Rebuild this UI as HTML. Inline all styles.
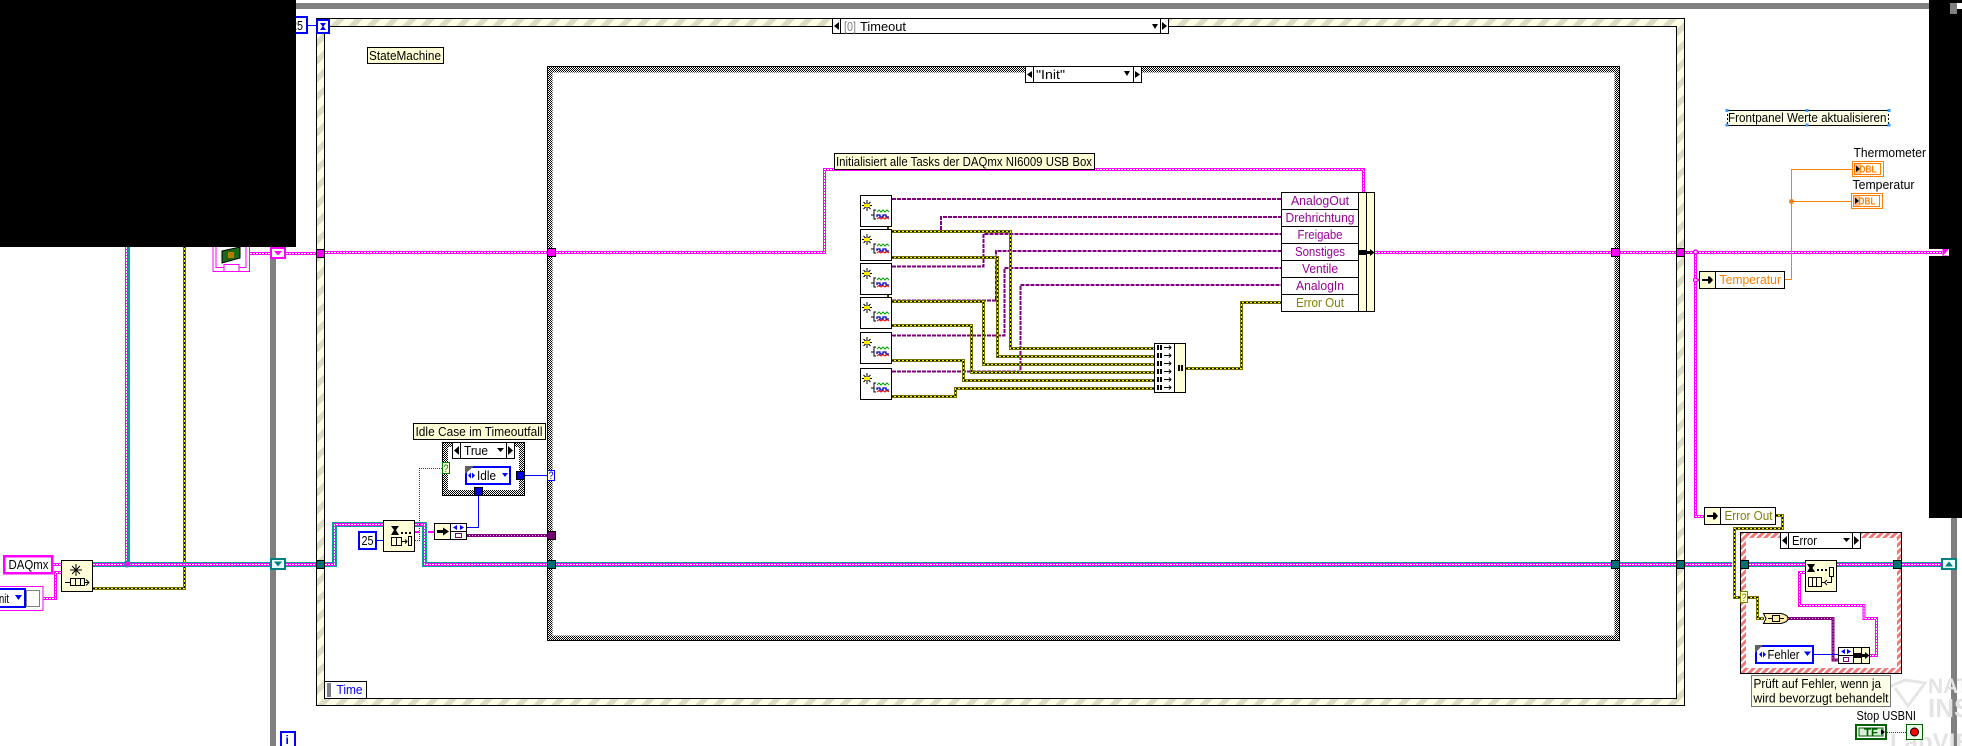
<!DOCTYPE html>
<html>
<head>
<meta charset="utf-8">
<style>
html,body{margin:0;padding:0;background:#fff;width:1962px;height:746px;overflow:hidden}
svg{display:block}
text{font-family:"Liberation Sans",sans-serif;font-size:13px;fill:#000}
.c{shape-rendering:crispEdges}
.c path,.c rect,.c line{shape-rendering:crispEdges}
.n{fill:none}
.t5{stroke:#00a0a0;stroke-width:5;fill:none}
.m3{stroke:#ff00ff;stroke-width:3;fill:none}
.wd{stroke:#fff;stroke-width:1;stroke-dasharray:2 1;fill:none}
.o3{stroke:#707000;stroke-width:3;fill:none}
.y1{stroke:#ffff00;stroke-width:1;fill:none}
.k1{stroke:#000;stroke-width:1;stroke-dasharray:2 2;fill:none}
.p2{stroke:#800080;stroke-width:2;stroke-dasharray:4 1;fill:none}
.p3{stroke:#800080;stroke-width:3;fill:none}
.pd{stroke:#e8b0e8;stroke-width:1;stroke-dasharray:1 2;fill:none}
.b1{stroke:#0000ff;stroke-width:1;fill:none}
.or{stroke:#ff8000;stroke-width:1;fill:none}
.g1{stroke:#006000;stroke-width:1;stroke-dasharray:1 1;fill:none}
.cr{fill:#ffffd8;stroke:#000;stroke-width:1}
.w{fill:#fff;stroke:#000;stroke-width:1}
.k{fill:#000}
.bl{fill:#0000ff}
.vt{fill:#990099}
.ol{fill:#808000}
</style>
</head>
<body>
<svg xmlns="http://www.w3.org/2000/svg" width="1962" height="746" viewBox="0 0 1962 746">
<defs>
<pattern id="ev" patternUnits="userSpaceOnUse" width="18" height="18">
<rect width="18" height="18" fill="#ffffe5"/>
<path d="M-4.5 4.5L4.5 -4.5M0 18L18 0M13.500 22.500L22.500 13.500" stroke="#dcdcc4" stroke-width="5.600"/>
</pattern>
<pattern id="ck" patternUnits="userSpaceOnUse" width="2" height="2">
<rect width="2" height="2" fill="#fff"/>
<rect width="1" height="1" fill="#000"/><rect x="1" y="1" width="1" height="1" fill="#000"/>
</pattern>
<pattern id="rd" patternUnits="userSpaceOnUse" width="7" height="7">
<rect width="7" height="7" fill="#fff"/>
<path d="M-1.750 1.750L1.750 -1.750M0 7L7 0M5.250 8.750L8.750 5.250" stroke="#f07878" stroke-width="3"/>
</pattern>
<g id="vi">
<rect class="w c" x="0.500" y="0.500" width="31" height="31"/>
<path d="M7 5V16M2 10.500H12M3.500 7L10.500 14M10.500 7L3.500 14" stroke="#000" stroke-width="1" fill="none"/>
<path d="M4 9H10V12H4z" fill="#ffee00"/>
<path d="M16 15H14V24H16M14 20H11" stroke="#000" stroke-width="1" fill="none"/>
<path d="M17 17L19 15L21 17L23 15L25 17L27 15L29 17" stroke="#00a000" fill="none"/>
<path d="M17 22V20H20V22H23V20H26V22H29" stroke="#0000c0" stroke-width="1.300" fill="none"/>
<path d="M17 24L19 22.500L21 24L23 22.500L25 24L27 22.500L29 24" stroke="#e00000" fill="none"/>
</g>
</defs>

<!-- gray loop -->
<rect x="296" y="3" width="1633" height="6" fill="#808080"/>
<rect x="270" y="247" width="6" height="499" fill="#808080"/>
<rect x="1951" y="518" width="6" height="228" fill="#808080"/>

<!-- event structure -->
<g class="c">
<rect x="316.500" y="18.500" width="1368" height="687" fill="url(#ev)" stroke="#000"/>
<rect x="324.500" y="26.500" width="1352" height="672" fill="#fff" stroke="#000"/>
<rect x="832.500" y="18.500" width="336" height="15" fill="#fff" stroke="#000"/>
<path d="M840.500 19V33M1160.500 19V33" stroke="#000"/>
</g>
<polygon class="k" points="839,22 839,30 834,26"/>
<polygon class="k" points="1162,22 1162,30 1167,26"/>
<polygon class="k" points="1152,24 1158,24 1155,29"/>
<text x="844" y="31" fill="#808080" textLength="12" lengthAdjust="spacingAndGlyphs" style="fill:#808080">[0]</text>
<text x="860" y="31" textLength="46" lengthAdjust="spacingAndGlyphs">Timeout</text>

<!-- hourglass -->
<g class="c">
<rect x="317" y="20" width="12" height="13" fill="#fff" stroke="#0000ff" stroke-width="2"/>
</g>
<polygon class="bl" points="320,23 326,23 323.500,26.500 326,30 320,30 322.500,26.500"/>
<g class="c">
<rect x="290" y="17" width="17" height="16" fill="#fff" stroke="#0000ff" stroke-width="2"/>
<path d="M308 25.500H317" stroke="#0000ff"/>
</g>
<text x="291" y="30" textLength="12" lengthAdjust="spacingAndGlyphs">25</text>

<!-- StateMachine -->
<rect class="cr c" x="367.500" y="47.500" width="76" height="16"/>
<text x="369" y="60" textLength="72" lengthAdjust="spacingAndGlyphs">StateMachine</text>

<!-- inner case -->
<g class="c">
<rect x="547.500" y="66.500" width="1072" height="574" fill="url(#ck)" stroke="#000"/>
<rect x="552.500" y="72.500" width="1062" height="563" fill="#fff"/>
<rect x="1025.500" y="66.500" width="116" height="16" fill="#fff" stroke="#000"/>
<path d="M1033.500 67V82M1133.500 67V82" stroke="#000"/>
</g>
<polygon class="k" points="1032,71 1032,78 1027,74.500"/>
<polygon class="k" points="1135,71 1135,78 1140,74.500"/>
<polygon class="k" points="1124,71 1130,71 1127,76"/>
<text x="1036" y="79" textLength="29" lengthAdjust="spacingAndGlyphs">"Init"</text>

<!-- Time -->
<g class="c">
<rect x="324.500" y="681.500" width="42" height="17" fill="#fff" stroke="#000"/>
<rect x="327" y="683" width="4" height="14" fill="#808080"/>
</g>
<text x="336.500" y="694" textLength="26" lengthAdjust="spacingAndGlyphs" style="fill:#0000ff">Time</text>

<!-- "i" -->
<g class="c"><rect x="281" y="732" width="14" height="15" fill="#fff" stroke="#0000ff" stroke-width="2"/></g>
<text x="285.500" y="744" style="fill:#0000ff;font-weight:bold;font-size:12px">i</text>

<!-- thin purple wires -->
<g class="c">
<path class="p2" d="M892 199H1282"/>
<path class="p2" d="M941 230V217H1282"/>
<path class="p2" d="M892 266.500H983.500V234H1282"/>
<path class="p2" d="M892 300.500H996V251H1282"/>
<path class="p2" d="M892 335.500H1004.500V268H1282"/>
<path class="p2" d="M892 371.500H1020.500V285H1282"/>
<path d="M888 226V230M888 294V298" stroke="#404000" stroke-width="2"/>
</g>

<!-- error wires -->
<g class="c">
<path class="o3" d="M93 588.500H184.500V247"/>
<path class="o3" d="M892 231.500H1010.500V348.500H1155"/>
<path class="o3" d="M892 257.500H997.500V356.500H1155"/>
<path class="o3" d="M892 301.500H983.500V364.500H1155"/>
<path class="o3" d="M892 325.500H971.500V372.500H1155"/>
<path class="o3" d="M892 360.500H963.500V380.500H1155"/>
<path class="o3" d="M892 396.500H955.500V388.500H1155"/>
<path class="o3" d="M1186 368.500H1241.500V302.500H1282"/>
<path class="o3" d="M1776 515.500H1782.500V528.500H1734.500V597.500H1741"/>
<path class="o3" d="M1748 597.500H1757.500V618.500H1764"/>
<path class="y1" d="M93 588.500H184.500V247"/>
<path class="y1" d="M892 231.500H1010.500V348.500H1155"/>
<path class="y1" d="M892 257.500H997.500V356.500H1155"/>
<path class="y1" d="M892 301.500H983.500V364.500H1155"/>
<path class="y1" d="M892 325.500H971.500V372.500H1155"/>
<path class="y1" d="M892 360.500H963.500V380.500H1155"/>
<path class="y1" d="M892 396.500H955.500V388.500H1155"/>
<path class="y1" d="M1186 368.500H1241.500V302.500H1282"/>
<path class="y1" d="M1776 515.500H1782.500V528.500H1734.500V597.500H1741"/>
<path class="y1" d="M1748 597.500H1757.500V618.500H1764"/>
<path class="k1" d="M93 588.500H184.500V247"/>
<path class="k1" d="M892 231.500H1010.500V348.500H1155"/>
<path class="k1" d="M892 257.500H997.500V356.500H1155"/>
<path class="k1" d="M892 301.500H983.500V364.500H1155"/>
<path class="k1" d="M892 325.500H971.500V372.500H1155"/>
<path class="k1" d="M892 360.500H963.500V380.500H1155"/>
<path class="k1" d="M892 396.500H955.500V388.500H1155"/>
<path class="k1" d="M1186 368.500H1241.500V302.500H1282"/>
<path class="k1" d="M1776 515.500H1782.500V528.500H1734.500V597.500H1741"/>
<path class="k1" d="M1748 597.500H1757.500V618.500H1764"/>
</g>

<!-- red case -->
<g class="c">
<rect x="1740.500" y="532.500" width="161" height="141" fill="url(#rd)" stroke="#000"/>
<rect x="1746" y="538" width="151" height="130" fill="#fff"/>
<rect x="1780.500" y="532.500" width="80" height="16" fill="#fff" stroke="#000"/>
<path d="M1788.500 533V548M1852.500 533V548" stroke="#000"/>
<!-- redraw wire inside case -->
<path class="o3" d="M1748 597.500H1757.500V618.500H1764"/>
<path class="y1" d="M1748 597.500H1757.500V618.500H1764"/>
<path class="k1" d="M1748 597.500H1757.500V618.500H1764"/>
</g>
<polygon class="k" points="1787,536 1787,545 1782,540.500"/>
<polygon class="k" points="1854,536 1854,545 1859,540.500"/>
<polygon class="k" points="1843,538 1850,538 1846.500,542"/>
<text x="1792" y="545" textLength="25" lengthAdjust="spacingAndGlyphs">Error</text>

<!-- teal + pink main wires -->
<g class="c">
<path class="t5" d="M127.500 247V564"/>
<path class="t5" d="M93 564.500H270M286 564.500H316M325 564.500H334.500V524.500H384M415 524.500H424.500V564.500H1732M1749 564.500H1806M1837 564.500H1894M1902 564.500H1941"/>
<path class="m3" d="M126.500 247V564"/>
<path class="m3" d="M93 564.500H270M286 564.500H316M325 564.500H334.500V524.500H384M415 524.500H424.500V564.500H1732M1749 564.500H1806M1837 564.500H1894M1902 564.500H1941"/>
<path class="wd" d="M126.500 247V564"/>
<path class="wd" d="M93 564.500H270M286 564.500H316M325 564.500H334.500V524.500H384M415 524.500H424.500V564.500H1732M1749 564.500H1806M1837 564.500H1894M1902 564.500H1941"/>

<!-- pink wires -->
<path class="m3" d="M250 253.500H317"/>
<path class="m3" d="M325 252.500H824.500V169.500H1363.500V192"/>
<path class="m3" d="M1375 252.500H1942"/>
<path class="m3" d="M1695.500 252V516.500H1704"/>
<path class="m3" d="M53 564.500H61M43 598.500H55.500V572.500H61"/>
<path class="m3" d="M1805 572.500H1799.500V605.500H1864V618.500H1876.500V655.500H1870"/>
<path class="wd" d="M250 253.500H317"/>
<path class="wd" d="M325 252.500H824.500V169.500H1363.500V192"/>
<path class="wd" d="M1375 252.500H1942"/>
<path class="wd" d="M1695.500 252V516.500H1704"/>
<path class="wd" d="M53 564.500H61M43 598.500H55.500V572.500H61"/>
<path class="wd" d="M1805 572.500H1799.500V605.500H1864V618.500H1876.500V655.500H1870"/>
<path d="M415 532H419M428 532H434M1696 280H1700" stroke="#ff00ff" stroke-width="2"/>

<!-- thick purple -->
<path class="p3" d="M466 535.500H548"/>
<path class="p3" d="M1788 618.500H1833V660H1839"/>
<path class="pd" d="M466 535.500H548"/>
<path class="pd" d="M1788 618.500H1833V660H1839"/>

<!-- blue wires -->
<path class="b1" d="M377 540.500H384"/>
<path class="b1" d="M466 527.500H478.500V495"/>
<path class="b1" d="M524 475.500H548"/>
<path class="b1" d="M1814 654.500H1839"/>

<!-- green -->
<path class="g1" d="M415 540.500H419.500V468.500H442"/>
<path class="g1" d="M1887 732.500H1906"/>

<!-- orange -->
<path class="or" d="M1784 279.500H1791.500V169.500H1853M1791.500 201.500H1851"/>
</g>
<circle cx="1791.500" cy="201.500" r="2.500" fill="#ff8000"/>
<circle cx="127" cy="564" r="3" fill="#ff00ff" stroke="#00a0a0"/>
<circle cx="1695.500" cy="252" r="2" fill="#fff" stroke="#ff00ff" stroke-width="1.500"/>
<circle cx="1695.500" cy="280" r="2" fill="#fff" stroke="#ff00ff" stroke-width="1.500"/>

<!-- tunnels -->
<g class="c" stroke="#000">
<rect x="316.500" y="249.500" width="8" height="8" fill="#ff00ff"/>
<rect x="547.500" y="248.500" width="8" height="8" fill="#ff00ff"/>
<rect x="1611.500" y="248.500" width="8" height="8" fill="#ff00ff"/>
<rect x="1676.500" y="248.500" width="8" height="8" fill="#ff00ff"/>
<rect x="316.500" y="560.500" width="8" height="8" fill="#007070"/>
<rect x="547.500" y="560.500" width="8" height="8" fill="#007070"/>
<rect x="1611.500" y="560.500" width="8" height="8" fill="#007070"/>
<rect x="1676.500" y="560.500" width="8" height="8" fill="#007070"/>
<rect x="1740.500" y="560.500" width="8" height="8" fill="#007070"/>
<rect x="1893.500" y="560.500" width="8" height="8" fill="#007070"/>
<rect x="547.500" y="531.500" width="8" height="8" fill="#700070"/>
</g>

<!-- shift registers -->
<g class="c">
<rect x="271" y="248" width="14" height="10" fill="#fff" stroke="#ff00ff" stroke-width="2"/>
<rect x="271" y="559" width="14" height="10" fill="#e8ffff" stroke="#008080" stroke-width="2"/>
<rect x="1942" y="559" width="14" height="10" fill="#e8ffff" stroke="#008080" stroke-width="2"/>
</g>
<polygon points="274,251 282,251 278,255.500" fill="#ff00ff"/>
<polygon points="274,561.500 282,561.500 278,566.500" fill="#008080"/>
<polygon points="1945,566.500 1953,566.500 1949,561.500" fill="#008080"/>
<g class="c"><rect x="1942.500" y="249" width="6" height="7" fill="#ff00ff"/></g>
<polygon points="1943,255.500 1948.500,249.500 1948.500,255.500" fill="#fff"/>

<!-- DAQmx const and Init control -->
<g class="c">
<rect x="4" y="556" width="48" height="17" fill="#fff" stroke="#ff00ff" stroke-width="2.500"/>
<rect x="-3" y="586.500" width="46" height="24" fill="#fff" stroke="#ff00ff"/>
<rect x="-3" y="589" width="28" height="18" fill="#fff" stroke="#0000ff" stroke-width="2"/>
<rect x="26.500" y="590.500" width="13" height="16" fill="#fff" stroke="#808080"/>
</g>
<text x="8.500" y="569" textLength="40" lengthAdjust="spacingAndGlyphs">DAQmx</text>
<text x="-1" y="603" textLength="10" lengthAdjust="spacingAndGlyphs">nit</text>
<polygon class="bl" points="15,595 22,595 18.500,600"/>

<!-- Obtain queue -->
<g class="c"><rect class="cr" x="61.500" y="560.500" width="31" height="31"/></g>
<path d="M76 564V576M70 570H82M72 566L80 574M80 566L72 574" stroke="#000" fill="none"/>
<g class="c" fill="none" stroke="#000">
<rect x="70.500" y="578.500" width="14" height="7"/>
<path d="M75.500 579V585M80.500 579V585M65 582.500H70M85 582.500H89"/>
</g>
<path d="M86 579.500L89 582.500L86 585.500" fill="none" stroke="#000"/>

<!-- VI top (chip) -->
<g class="c" fill="none" stroke="#ff00ff">
<path d="M213 247V271.500H249.500V247"/>
<path d="M216 247V267.500H246V247"/>
<rect x="224" y="264.500" width="15" height="7" fill="#fff"/>
</g>
<polygon points="222,251 240,247 240,258 222,263" fill="#1a6a1a" stroke="#000"/>
<rect x="228" y="252" width="6" height="6" fill="#b08000"/>

<!-- Dequeue -->
<g class="c"><rect class="cr" x="383.500" y="520.500" width="31" height="31"/></g>
<polygon class="k" points="391,526 399,526 396,530 399,535 391,535 394,530"/>
<path d="M401 533H403M405 533H407M409 533H411" stroke="#000" stroke-width="2"/>
<g class="c" fill="none" stroke="#000">
<rect x="391.500" y="537.500" width="10" height="8"/>
<path d="M396.500 538V545"/>
<rect x="408.500" y="536.500" width="3" height="9"/>
</g>
<path d="M402 541.500H407M405 539.500L407 541.500L405 543.500" fill="none" stroke="#000"/>

<!-- const 25 -->
<g class="c"><rect x="359" y="532" width="17" height="17" fill="#fff" stroke="#0000ff" stroke-width="2"/></g>
<text x="361.500" y="545" textLength="12" lengthAdjust="spacingAndGlyphs">25</text>

<!-- small case -->
<g class="c">
<rect x="442.500" y="442.500" width="82" height="53" fill="url(#ck)" stroke="#000"/>
<rect x="448" y="447" width="71" height="43" fill="#fff"/>
<rect x="452.500" y="442.500" width="62" height="16" fill="#fff" stroke="#000"/>
<path d="M460.500 443V458M506.500 443V458" stroke="#000"/>
<rect x="442.500" y="462.500" width="7" height="11" fill="#ffffd8" stroke="#008000"/>
</g>
<polygon class="k" points="459,446 459,455 454,450.500"/>
<polygon class="k" points="508,446 508,455 513,450.500"/>
<polygon class="k" points="497,448 504,448 500.500,452"/>
<text x="464" y="455" textLength="24" lengthAdjust="spacingAndGlyphs">True</text>
<text x="443.500" y="472" textLength="5" lengthAdjust="spacingAndGlyphs" style="fill:#008000;font-size:11px">?</text>
<g class="c">
<rect x="466" y="467" width="44" height="17" fill="#fff" stroke="#0000ff" stroke-width="2"/>
<rect x="516.500" y="471.500" width="8" height="8" fill="#0000e0" stroke="#000"/>
<rect x="474.500" y="487.500" width="8" height="8" fill="#0000e0" stroke="#000"/>
<rect x="547.500" y="470.500" width="7" height="10" fill="#ffffd8" stroke="#0000ff"/>
</g>
<polygon points="465,466 474,466 465,474" fill="#606060"/>
<polygon class="bl" points="468,475.500 471,472.500 471,478.500"/>
<polygon class="bl" points="475,475.500 472,472.500 472,478.500"/>
<polygon class="bl" points="502,473 508,473 505,477"/>
<text x="477" y="480" textLength="19" lengthAdjust="spacingAndGlyphs">Idle</text>
<text x="548.500" y="479" textLength="5" lengthAdjust="spacingAndGlyphs" style="fill:#0000ff;font-size:11px">?</text>

<!-- Idle label -->
<rect class="cr c" x="413.500" y="423.500" width="132" height="16"/>
<text x="415.500" y="436" textLength="127" lengthAdjust="spacingAndGlyphs">Idle Case im Timeoutfall</text>

<!-- Unbundle -->
<g class="c">
<rect class="cr" x="434.500" y="523.500" width="16" height="16"/>
<rect class="w" x="450.500" y="523.500" width="16" height="8"/>
<rect class="w" x="450.500" y="531.500" width="16" height="8"/>
<rect x="455.500" y="533.500" width="6" height="4" fill="none" stroke="#800080"/>
</g>
<polygon class="k" points="437,530 443,530 443,527.500 449,531.500 443,535.500 443,533 437,533"/>
<polygon class="bl" points="453,527.500 457,525 457,530"/>
<polygon class="bl" points="464,527.500 460,525 460,530"/>

<!-- Init label -->
<rect class="cr c" x="834.500" y="153.500" width="260" height="16"/>
<text x="836" y="166" textLength="256" lengthAdjust="spacingAndGlyphs">Initialisiert alle Tasks der DAQmx NI6009 USB Box</text>

<!-- VI icons -->
<use href="#vi" x="860" y="195"/>
<use href="#vi" x="860" y="229"/>
<use href="#vi" x="860" y="263"/>
<use href="#vi" x="860" y="297"/>
<use href="#vi" x="860" y="332"/>
<use href="#vi" x="860" y="368"/>

<!-- Merge errors -->
<g class="c">
<rect class="w" x="1154.500" y="343.500" width="20" height="49"/>
<rect class="cr" x="1174.500" y="343.500" width="11" height="49"/>
</g>
<g fill="none" stroke="#000">
<path d="M1164 347.500H1171M1169 345.500L1171 347.500L1169 349.500"/>
<path d="M1164 355.500H1171M1169 353.500L1171 355.500L1169 357.500"/>
<path d="M1164 363.500H1171M1169 361.500L1171 363.500L1169 365.500"/>
<path d="M1164 371.500H1171M1169 369.500L1171 371.500L1169 373.500"/>
<path d="M1164 379.500H1171M1169 377.500L1171 379.500L1169 381.500"/>
<path d="M1164 387.500H1171M1169 385.500L1171 387.500L1169 389.500"/>
</g>
<g class="k c">
<rect x="1157" y="345" width="2" height="5"/><rect x="1160" y="345" width="2" height="5"/>
<rect x="1157" y="353" width="2" height="5"/><rect x="1160" y="353" width="2" height="5"/>
<rect x="1157" y="361" width="2" height="5"/><rect x="1160" y="361" width="2" height="5"/>
<rect x="1157" y="369" width="2" height="5"/><rect x="1160" y="369" width="2" height="5"/>
<rect x="1157" y="377" width="2" height="5"/><rect x="1160" y="377" width="2" height="5"/>
<rect x="1157" y="385" width="2" height="5"/><rect x="1160" y="385" width="2" height="5"/>
<rect x="1178" y="365" width="2" height="6"/><rect x="1181" y="365" width="2" height="6"/>
</g>

<!-- Bundle by name -->
<g class="c">
<rect class="w" x="1281.500" y="192.500" width="77" height="119"/>
<rect class="cr" x="1358.500" y="192.500" width="8" height="119"/>
<rect class="cr" x="1366.500" y="192.500" width="8" height="119"/>
<path d="M1282 209.500H1358M1282 226.500H1358M1282 243.500H1358M1282 260.500H1358M1282 277.500H1358M1282 294.500H1358" stroke="#000"/>
</g>
<polygon class="k" points="1359,250 1366,250 1366,251 1370,251 1370,249 1374.500,252.500 1370,256 1370,254 1366,254 1366,255 1359,255"/>
<text class="vt" x="1291" y="205" textLength="58" lengthAdjust="spacingAndGlyphs">AnalogOut</text>
<text class="vt" x="1285.500" y="222" textLength="69" lengthAdjust="spacingAndGlyphs">Drehrichtung</text>
<text class="vt" x="1297.500" y="239" textLength="45" lengthAdjust="spacingAndGlyphs">Freigabe</text>
<text class="vt" x="1295" y="256" textLength="50" lengthAdjust="spacingAndGlyphs">Sonstiges</text>
<text class="vt" x="1302" y="273" textLength="36" lengthAdjust="spacingAndGlyphs">Ventile</text>
<text class="vt" x="1296" y="290" textLength="48" lengthAdjust="spacingAndGlyphs">AnalogIn</text>
<text class="ol" x="1296" y="307" textLength="48" lengthAdjust="spacingAndGlyphs">Error Out</text>

<!-- Frontpanel label -->
<g class="c">
<rect x="1727" y="110" width="162" height="15" fill="#ffffe5"/>
<path d="M1728 110.500H1889M1728 125.500H1889" stroke="#000"/>
<path d="M1727.500 110V125M1888.500 110V125" stroke="#000" stroke-dasharray="2 2"/>
</g>
<text x="1728" y="122" textLength="158.500" lengthAdjust="spacingAndGlyphs">Frontpanel Werte aktualisieren</text>
<g fill="#3399ff" class="c">
<rect x="1725.500" y="109" width="3" height="3"/><rect x="1805.500" y="109" width="3" height="3"/><rect x="1887.500" y="109" width="3" height="3"/>
<rect x="1725.500" y="123.500" width="3" height="3"/><rect x="1805.500" y="123.500" width="3" height="3"/><rect x="1887.500" y="123.500" width="3" height="3"/>
</g>

<!-- Thermometer & Temperatur indicators -->
<text x="1853.500" y="157" textLength="72.500" lengthAdjust="spacingAndGlyphs">Thermometer</text>
<text x="1852.500" y="189" textLength="62" lengthAdjust="spacingAndGlyphs">Temperatur</text>
<g class="c" fill="#fff" stroke="#ff8000">
<rect x="1852.500" y="161.500" width="31" height="15"/>
<rect x="1854.500" y="163.500" width="26" height="11"/>
<rect x="1851.500" y="193.500" width="31" height="15"/>
<rect x="1853.500" y="195.500" width="26" height="11"/>
</g>
<g class="c" fill="#ffc090">
<rect x="1855" y="164" width="6" height="10"/>
<rect x="1854" y="196" width="6" height="10"/>
</g>
<polygon class="k" points="1856,165.500 1856,172 1860,169"/>
<polygon class="k" points="1855,197.500 1855,204 1859,201"/>
<text x="1859.500" y="172.500" textLength="17" lengthAdjust="spacingAndGlyphs" style="fill:#ff8000;font-weight:bold;font-size:10px">DBL</text>
<text x="1858.500" y="204.500" textLength="17" lengthAdjust="spacingAndGlyphs" style="fill:#ff8000;font-weight:bold;font-size:10px">DBL</text>

<!-- Temperatur unbundle -->
<g class="c">
<rect class="cr" x="1699.500" y="271.500" width="16" height="17"/>
<rect class="w" x="1715.500" y="271.500" width="69" height="17"/>
</g>
<polygon class="k" points="1702,279 1708,279 1708,276.500 1710,276.500 1713,280 1710,283.500 1708,283.500 1708,281 1702,281"/>
<text x="1719.500" y="284" textLength="61.500" lengthAdjust="spacingAndGlyphs" style="fill:#ff8000">Temperatur</text>

<!-- Error Out unbundle -->
<g class="c">
<rect class="cr" x="1704.500" y="507.500" width="16" height="17"/>
<rect class="w" x="1720.500" y="507.500" width="55" height="17"/>
</g>
<polygon class="k" points="1707,515 1713,515 1713,512.500 1715,512.500 1718,516 1715,519.500 1713,519.500 1713,517 1707,517"/>
<text class="ol" x="1724.500" y="520" textLength="48" lengthAdjust="spacingAndGlyphs">Error Out</text>

<!-- Error case selector -->
<g class="c"><rect x="1740.500" y="591.500" width="7" height="11" fill="#ffffc8" stroke="#808000"/></g>
<text class="ol" x="1741.500" y="601" textLength="5" lengthAdjust="spacingAndGlyphs" style="font-size:11px">?</text>

<!-- Release queue -->
<g class="c"><rect class="cr" x="1805.500" y="560.500" width="31" height="31"/></g>
<polygon class="k" points="1807,564 1815,564 1812.500,568 1815,572 1807,572 1809.500,568"/>
<path d="M1817 570H1819M1821 570H1823M1825 570H1827" stroke="#000" stroke-width="2"/>
<g class="c" fill="none" stroke="#000">
<rect x="1829.500" y="567.500" width="4" height="9"/>
<rect x="1808.500" y="577.500" width="13" height="9"/>
<path d="M1812.500 578V586M1816.500 578V586M1831.500 577V582.500H1827"/>
</g>
<path d="M1822 582.500H1825M1827 580L1824.500 582.500L1827 585" fill="none" stroke="#000"/>

<!-- Error to bool -->
<path d="M1763.500 613.500H1781Q1788 615 1788 618.500Q1788 622 1781 623.500H1763.500L1766 618.500Z" fill="#ffeeb0" stroke="#000"/>
<g class="c"><rect x="1772.500" y="615.500" width="7" height="6" fill="#ffeeb0" stroke="#000"/></g>
<path d="M1768 618.500H1772M1780 618.500H1784" stroke="#000"/>

<!-- Fehler const -->
<g class="c"><rect x="1756" y="646" width="57" height="17" fill="#fff" stroke="#0000ff" stroke-width="2"/></g>
<polygon points="1755,645 1763,645 1755,653" fill="#606060"/>
<polygon class="bl" points="1759,654.500 1762,651.500 1762,657.500"/>
<polygon class="bl" points="1766,654.500 1763,651.500 1763,657.500"/>
<polygon class="bl" points="1804,651.500 1811,651.500 1807.500,656"/>
<text x="1767.500" y="659" textLength="32" lengthAdjust="spacingAndGlyphs">Fehler</text>

<!-- Bundle fehler -->
<g class="c">
<rect class="w" x="1838.500" y="647.500" width="15" height="8"/>
<rect class="w" x="1838.500" y="655.500" width="15" height="8"/>
<rect class="cr" x="1853.500" y="647.500" width="8" height="16"/>
<rect class="cr" x="1861.500" y="647.500" width="8" height="16"/>
<rect x="1843.500" y="657.500" width="5" height="4" fill="none" stroke="#800080"/>
</g>
<polygon class="bl" points="1841,651.500 1845,649 1845,654"/>
<polygon class="bl" points="1851,651.500 1847,649 1847,654"/>
<polygon class="k" points="1854,653 1861,653 1861,654 1865,654 1865,652 1869.500,655.500 1865,659 1865,657 1861,657 1861,658 1854,658"/>

<!-- watermark -->
<path d="M1882 690L1905 680L1925 683L1908 706L1895 688" fill="none" stroke="#e6e6e6" stroke-width="3"/>
<text x="1928" y="693" style="font-size:21px;font-weight:bold;fill:#e4e4e4">NATIONAL</text>
<text x="1928" y="717" style="font-size:26px;font-weight:bold;fill:#e4e4e4">INSTRUMENTS</text>
<text x="1890" y="750" style="font-size:24px;font-weight:bold;fill:#e4e4e4">LabVIEW</text>

<!-- Note -->
<g class="c"><rect x="1751.500" y="675.500" width="139" height="31" fill="#ffffe5" fill-opacity="0.920" stroke="#777"/></g>
<text x="1753.500" y="688" textLength="127.500" lengthAdjust="spacingAndGlyphs">Prüft auf Fehler, wenn ja</text>
<text x="1753.500" y="702.500" textLength="135" lengthAdjust="spacingAndGlyphs">wird bevorzugt behandelt</text>

<!-- Stop -->
<text x="1856.500" y="720" textLength="59.500" lengthAdjust="spacingAndGlyphs">Stop USBNI</text>
<g class="c">
<rect x="1856" y="725" width="30" height="14" fill="#fff" stroke="#006000" stroke-width="2"/>
<rect x="1859" y="728" width="24" height="8" fill="#d8f0d8" stroke="#006000"/>
<rect x="1906.500" y="724.500" width="16" height="15" fill="#e8f8e8" stroke="#006000"/>
</g>
<text x="1864" y="736" textLength="14" lengthAdjust="spacingAndGlyphs" style="fill:#006000;font-weight:bold;font-size:11px">TF</text>
<polygon class="k" points="1881,729 1881,735 1885,732"/>
<circle cx="1914.500" cy="732" r="4" fill="#ff0000" stroke="#000"/>

<!-- black redactions -->
<rect x="0" y="0" width="296" height="247" fill="#000"/>
<rect x="1929" y="0" width="33" height="249" fill="#000"/>
<rect x="1949" y="249" width="13" height="7" fill="#000"/>
<rect x="1929" y="256" width="33" height="262" fill="#000"/>
<rect x="1950" y="3" width="7" height="11" fill="#808080"/>
<polygon points="1957,3 1962,3 1962,9 1957,9" fill="#fff"/>
</svg>
</body>
</html>
